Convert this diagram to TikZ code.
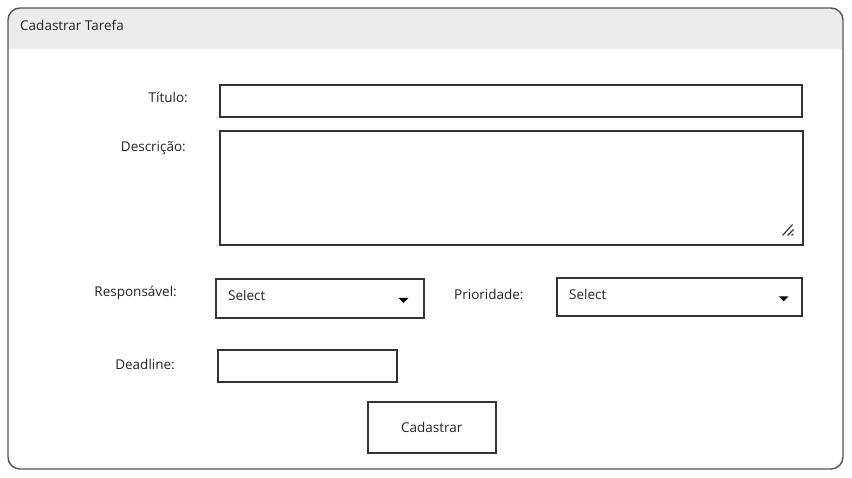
\documentclass[tikz,border=0pt]{standalone}
\usepackage{fontspec}
\setmainfont{Open Sans}
\usetikzlibrary{calc}
\definecolor{linecol}{HTML}{333333}
\definecolor{framecol}{HTML}{555555}
\definecolor{headcol}{HTML}{EBEBEB}
\definecolor{txtcol}{HTML}{222222}
\begin{document}
\begin{tikzpicture}[x=1pt,y=-1pt,
  field/.style={draw=linecol, line width=1.5pt, fill=white, inner sep=0pt, anchor=north west},
  lbl/.style={text=txtcol, font=\fontsize{13.5}{16}\selectfont, inner sep=0pt},
  ttl/.style={text=txtcol, font=\fontsize{13.5}{16}\selectfont, inner sep=0pt},
  caret/.style={fill=black},
  grip/.style={draw=linecol, line width=1.1pt}
 ]
\useasboundingbox (0,0) rectangle (852,477);
% window frame
\begin{scope}
  \clip[rounded corners=12pt] (8,8) rectangle (843,469);
  \fill[white] (8,8) rectangle (843,469);
  \fill[headcol] (8,8) rectangle (843,49);
\end{scope}
\draw[framecol, line width=1.4pt, rounded corners=12pt] (8,8) rectangle (843,469);
\node[ttl, anchor=mid west] (title) at (20,28) {Cadastrar Tarefa};

% fields
\node[field, minimum width=582pt, minimum height=32pt] (titulo) at (219,84) {};
\node[field, minimum width=583pt, minimum height=114pt] (desc) at (219,130) {};
\node[field, minimum width=208pt, minimum height=39pt] (resp) at (215,278) {};
\node[field, minimum width=245pt, minimum height=38pt] (prio) at (556,277) {};
\node[field, minimum width=179pt, minimum height=32pt] (dead) at (217,349) {};
\node[field, minimum width=128pt, minimum height=51pt] (btn) at (367,401) {};

% labels
\node[lbl, anchor=mid east] (ltitulo) at (188,100) {Título:};
\node[lbl, anchor=mid east] (ldesc) at (186,149) {Descrição:};
\node[lbl, anchor=mid east] (lresp) at (177,294) {Responsável:};
\node[lbl, anchor=mid west] (lprio) at (454,297) {Prioridade:};
\node[lbl, anchor=mid east] (ldead) at (175,367) {Deadline:};
\node[lbl] (lbtn) at (btn.center) {Cadastrar};

% select contents
\node[lbl, anchor=mid west] (sresp) at (228,298) {Select};
\node[lbl, anchor=mid west] (sprio) at (569,297) {Select};
\fill[caret] ($(resp.east)+(-26,-0.5)$) -- ++(10,0) -- ++(-5,5) -- cycle;
\fill[caret] ($(prio.east)+(-24,-0.5)$) -- ++(10,0) -- ++(-5,5) -- cycle;

% resize grip
\draw[grip] ($(desc.south east)+(-21,-10)$) -- ++(10,-11);
\draw[grip] ($(desc.south east)+(-16,-10)$) -- ++(6,-6);
\draw[grip] ($(desc.south east)+(-12,-10)$) -- ++(1.5,-1.5);
\end{tikzpicture}
\end{document}
